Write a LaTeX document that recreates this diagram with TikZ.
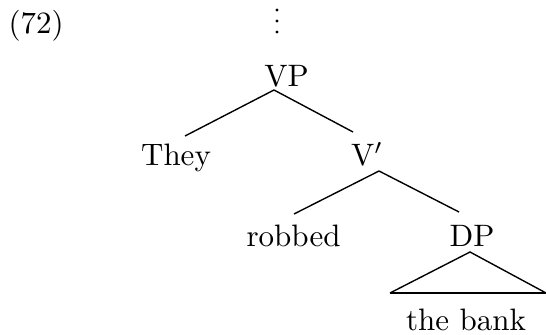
\documentclass[tikz,border=0pt]{standalone}
\begin{document}
\begin{tikzpicture}[x=0.32258pt, y=-0.32258pt,
  lbl/.style={inner sep=0pt, anchor=base},
  branch/.style={line width=0.45pt},
  roof/.style={line width=0.45pt, line join=miter},
  roofbase/.style={line width=0.8pt}]
\useasboundingbox (0,0) rectangle (546,335);

% example number
\node[inner sep=0pt, anchor=base west] (num) at (8,34) {(72)};

% vertical ellipsis above the root
\foreach \yy in {10,21,32} \fill (277,\yy) circle[radius=0.5pt];

% tree labels
\node[lbl] (vp)   at (286.5,87)  {VP};
\node[lbl] (they) at (176,166)   {They};
\node[lbl] (vbar) at (367,166)   {V$'$};
\node[lbl] (rob)  at (293.5,246.5) {robbed};
\node[lbl] (dp)   at (472,247)   {DP};
\node[lbl] (bank) at (466,330)   {the bank};

% branch end points
\coordinate (vpfoot)   at (274,90);
\coordinate (theyhead) at (185,136);
\coordinate (vbarhead) at (353,132);
\coordinate (vbarfoot) at (379,171);
\coordinate (robhead)  at (294,214);
\coordinate (dphead)   at (459,212);
\coordinate (dpfoot)   at (470,252);
\coordinate (roofL)    at (390,293);
\coordinate (roofR)    at (546,293);

% branches
\draw[branch] (vpfoot) -- (theyhead);
\draw[branch] (vpfoot) -- (vbarhead);
\draw[branch] (vbarfoot) -- (robhead);
\draw[branch] (vbarfoot) -- (dphead);

% triangle over "the bank"
\draw[roof] (roofL) -- (dpfoot) -- (roofR);
\draw[roofbase] (roofL) -- (roofR);
\end{tikzpicture}
\end{document}
